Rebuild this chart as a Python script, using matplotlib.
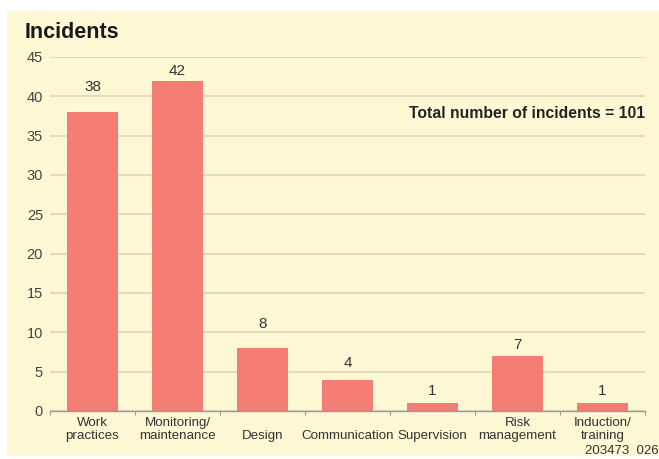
import matplotlib
matplotlib.use("Agg")
import matplotlib.pyplot as plt
from matplotlib.patches import Rectangle

categories = ["Work\npractices", "Monitoring/\nmaintenance", "Design", "Communication",
              "Supervision", "Risk\nmanagement", "Induction/\ntraining"]
incidents = [38, 42, 8, 4, 1, 7, 1]
yticks = [0, 5, 10, 15, 20, 25, 30, 35, 40, 45]
# gap (pixels) between each bar top and its value label
label_gap = [25, 10, 24, 17, 12, 11, 12]
total = sum(incidents)

plt.rcParams["font.family"] = ["Liberation Sans", "DejaVu Sans"]

W, H = 659, 459
fig = plt.figure(figsize=(W / 100, H / 100), dpi=100, facecolor="white")

panel_col = "#FEF8D5"
fig.add_artist(Rectangle((7 / W, 3 / H), 1 - 7 / W, (H - 14) / H,
                         transform=fig.transFigure, facecolor=panel_col,
                         edgecolor="none", zorder=-10))

ax = fig.add_axes([50 / W, 48 / H, 595 / W, 354 / H])
ax.set_facecolor("none")

x = list(range(len(categories)))
ax.bar(x, incidents, width=0.6, color="#F47D75", zorder=2)

ax.set_xlim(-0.5, len(categories) - 0.5)
ax.set_ylim(0, 45)
ax.set_yticks(yticks)
ax.set_yticklabels([str(t) for t in yticks], fontsize=10.5, color="#444444")
ax.yaxis.grid(True, color="#DEDDBE", linewidth=1.6, zorder=1)
ax.set_axisbelow(True)
ax.tick_params(axis="y", length=0, pad=5)

# category names sit on a common baseline below the axis
ax.set_xticks(x)
ax.set_xticklabels([])
ax.tick_params(axis="x", length=0)
for xi, name in zip(x, categories):
    ax.annotate(name, (xi, 0), xycoords=ax.get_xaxis_transform(),
                xytext=(0, -28), textcoords="offset pixels",
                ha="center", va="baseline", fontsize=9.6, color="#333333",
                linespacing=1.15)
# small boundary ticks along the base line
ax.set_xticks([i + 0.5 for i in range(-1, len(categories))], minor=True)
ax.tick_params(axis="x", which="minor", length=3, color="#999999", width=0.8)

for s in ["top", "right", "left"]:
    ax.spines[s].set_visible(False)
ax.spines["bottom"].set_color("#9A9A90")
ax.spines["bottom"].set_linewidth(1.0)

for xi, v, g in zip(x, incidents, label_gap):
    ax.annotate(str(v), (xi, v), xytext=(0, g), textcoords="offset pixels",
                ha="center", va="center", fontsize=11, color="#333333")

fig.text(25 / W, 1 - 33 / H, "Incidents", fontsize=15.5, fontweight="bold",
         color="#1a1a1a", ha="left", va="center")
ax.text(1.0, 1 - (113 - 57) / 354,
        f"Total number of incidents = {total}", transform=ax.transAxes,
        fontsize=11.3, fontweight="bold", color="#222222", ha="right", va="center")
fig.text(1.0, 1 - 451 / H, "203473  026", fontsize=9.5, color="#333333",
         ha="right", va="center")

fig.savefig("out.png", dpi=100, facecolor="white")
